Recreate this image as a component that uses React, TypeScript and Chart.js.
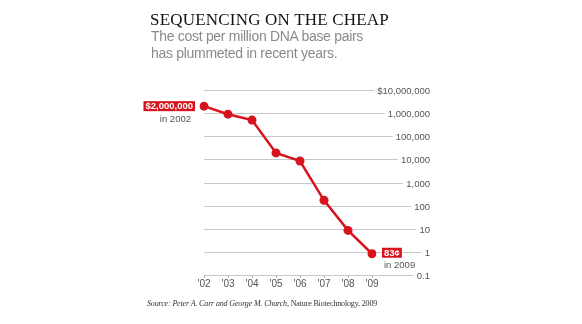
import React, { useEffect, useRef } from "react";
import { Chart, registerables } from "chart.js";

Chart.register(...registerables);

const years = ["'02", "'03", "'04", "'05", "'06", "'07", "'08", "'09"];
const costPerMillion = [2000000, 900000, 500000, 19000, 8500, 170, 8.5, 0.83];
const yTickValues = [0.1, 1, 10, 100, 1000, 10000, 100000, 1000000, 10000000];
const yTickLabels = ["0.1", "1", "10", "100", "1,000", "10,000", "100,000", "1,000,000", "$10,000,000"];
const startLabel = "$2,000,000";
const startSub = "in 2002";
const endLabel = "83¢";
const endSub = "in 2009";

const RED = "#d7141d";
const SANS = '"Liberation Sans", Arial, sans-serif';
const SERIF = '"Liberation Serif", "Times New Roman", serif';

const overlayPlugin = {
  id: "overlay",
  beforeDatasetsDraw(chart: any) {
    const ctx = chart.ctx;
    const y = chart.scales.y;
    const x = chart.scales.x;
    const left = x.left;
    const labelRight = 430;
    ctx.save();
    ctx.font = `9.5px ${SANS}`;
    ctx.textAlign = "right";
    ctx.textBaseline = "middle";
    yTickValues.forEach((v, i) => {
      const py = Math.round(y.getPixelForValue(v)) + 0.5;
      const w = ctx.measureText(yTickLabels[i]).width;
      ctx.strokeStyle = "#c8c8c8";
      ctx.lineWidth = 1;
      ctx.beginPath();
      ctx.moveTo(left, py);
      ctx.lineTo(labelRight - w - 3, py);
      ctx.stroke();
      ctx.fillStyle = "#555";
      ctx.fillText(yTickLabels[i], labelRight, py + 0.5);
    });
    ctx.restore();
  },
  afterDatasetsDraw(chart: any) {
    const ctx = chart.ctx;
    const meta = chart.getDatasetMeta(0);
    const first = meta.data[0];
    const last = meta.data[meta.data.length - 1];
    ctx.save();
    ctx.textBaseline = "middle";
    ctx.font = `bold 9.5px ${SANS}`;
    let w = ctx.measureText(startLabel).width;
    let bw = w + 4;
    let bx = first.x - 9 - bw;
    ctx.fillStyle = RED;
    ctx.fillRect(bx, first.y - 5, bw, 10);
    ctx.fillStyle = "#fff";
    ctx.textAlign = "left";
    ctx.fillText(startLabel, bx + 2, first.y + 0.5);
    ctx.font = `9.5px ${SANS}`;
    ctx.fillStyle = "#555";
    ctx.textAlign = "right";
    ctx.fillText(startSub, first.x - 13, first.y + 13);
    ctx.font = `bold 9.5px ${SANS}`;
    w = ctx.measureText(endLabel).width;
    bx = last.x + 10;
    ctx.fillStyle = RED;
    ctx.fillRect(bx, last.y - 6, w + 4, 10);
    ctx.fillStyle = "#fff";
    ctx.textAlign = "left";
    ctx.fillText(endLabel, bx + 2, last.y - 0.5);
    ctx.font = `9.5px ${SANS}`;
    ctx.fillStyle = "#555";
    ctx.fillText(endSub, bx + 2, last.y + 11.5);
    ctx.restore();
  },
};

export default function App() {
  const ref = useRef<HTMLCanvasElement>(null);
  useEffect(() => {
    if (!ref.current) return;
    const chart = new Chart(ref.current, {
      type: "line",
      data: {
        labels: years,
        datasets: [
          {
            data: costPerMillion,
            borderColor: RED,
            backgroundColor: RED,
            borderWidth: 2.5,
            pointRadius: 4.5,
            pointBackgroundColor: RED,
            pointBorderWidth: 0,
            tension: 0,
          },
        ],
      },
      options: {
        animation: false,
        responsive: false,
        maintainAspectRatio: false,
        layout: { padding: { left: 204, right: 210, top: 90, bottom: 34 } },
        plugins: { legend: { display: false }, tooltip: { enabled: false } },
        scales: {
          x: {
            offset: false,
            grid: { drawOnChartArea: false, tickLength: 3, color: "#aaa" },
            border: { display: false },
            ticks: { padding: 0, maxRotation: 0, autoSkip: false, color: "#555", font: { family: SANS, size: 10 } },
          },
          y: {
            type: "logarithmic",
            display: false,
            min: 0.1,
            max: 10000000,
          },
        },
      },
      plugins: [overlayPlugin],
    });
    return () => chart.destroy();
  }, []);
  return (
    <div style={{ position: "absolute", left: 0, top: 0, width: 582, height: 324, background: "#fff" }}>
      <canvas ref={ref} width={582} height={324} style={{ position: "absolute", left: 0, top: 0 }} />
      <div style={{ position: "absolute", left: 150, top: 11, fontFamily: SERIF, fontSize: 17, lineHeight: "17px", letterSpacing: 0.2, color: "#111", whiteSpace: "nowrap" }}>
        SEQUENCING ON THE CHEAP
      </div>
      <div style={{ position: "absolute", left: 151, top: 28, fontFamily: SANS, fontSize: 14, lineHeight: "17px", letterSpacing: -0.3, color: "#8a8a8a", whiteSpace: "nowrap" }}>
        The cost per million DNA base pairs
        <br />
        has plummeted in recent years.
      </div>
      <div style={{ position: "absolute", left: 147, top: 299, fontFamily: SERIF, fontSize: 8, lineHeight: "9px", letterSpacing: -0.15, color: "#333", whiteSpace: "nowrap" }}>
        <i>Source: Peter A. Carr and George M. Church,</i> Nature Biotechnology, 2009
      </div>
    </div>
  );
}
